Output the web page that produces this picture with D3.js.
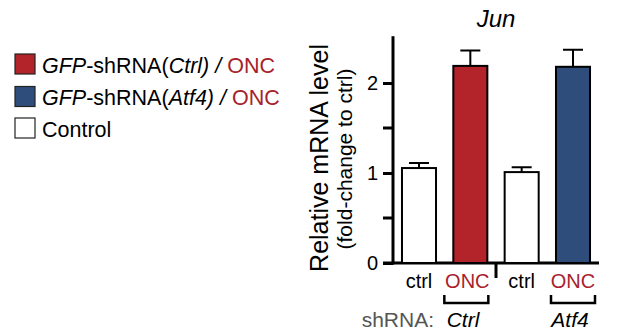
<!DOCTYPE html>
<html>
<head>
<meta charset="utf-8">
<script src="https://cdn.jsdelivr.net/npm/d3@7"></script>
<style>
  body { margin: 0; background: #fff; }
  text { font-family: "Liberation Sans", Arial, sans-serif; }
</style>
</head>
<body>
<div class="chartHolder"></div>
<script>
// data
let groups = ["ctrlA", "oncA", "ctrlB", "oncB"];
let groupLabels = ["ctrl", "ONC", "ctrl", "ONC"];
let values = [1.055, 2.19, 1.01, 2.18];
let errors = [0.055, 0.17, 0.055, 0.19];
let barColors = ["#ffffff", "#b2232a", "#ffffff", "#2f4d7b"];
let yTicks = [0, 1, 2];
let yMinorTicks = [0.5, 1.5];
let shrnaLabels = ["Ctrl", "Atf4"];

let width = 617,
  height = 335;
let red = "#a8222b";

let svg = d3
  .select(".chartHolder")
  .append("svg")
  .attr("width", width)
  .attr("height", height);

// scales
let yScale = d3.scaleLinear().domain([0, 2.5]).range([263, 38]);
let xScale = d3
  .scaleBand()
  .domain(groups)
  .range([393, 599])
  .paddingInner(0.337)
  .paddingOuter(0.175);

////////// Y AXIS //////////
let yAxis = d3
  .axisLeft(yScale)
  .tickValues(yTicks)
  .tickSize(10)
  .tickPadding(5)
  .tickFormat(d3.format("d"));

let yAxisGroup = svg
  .append("g")
  .attr("transform", "translate(393,0)")
  .call(yAxis);
yAxisGroup.select(".domain").remove();
yAxisGroup.selectAll("line").attr("stroke", "#000").attr("stroke-width", 3);
yAxisGroup
  .selectAll("text")
  .style("font-size", "20px")
  .attr("fill", "#000");

yAxisGroup
  .selectAll(".minor")
  .data(yMinorTicks)
  .enter()
  .append("line")
  .attr("x1", -10)
  .attr("x2", 0)
  .attr("y1", (d) => yScale(d))
  .attr("y2", (d) => yScale(d))
  .attr("stroke", "#000")
  .attr("stroke-width", 3);

// axis lines
svg
  .append("line")
  .attr("x1", 393)
  .attr("x2", 393)
  .attr("y1", yScale(2.52))
  .attr("y2", yScale(0) + 1.5)
  .attr("stroke", "#000")
  .attr("stroke-width", 3);
svg
  .append("line")
  .attr("x1", 383)
  .attr("x2", 599)
  .attr("y1", yScale(0))
  .attr("y2", yScale(0))
  .attr("stroke", "#000")
  .attr("stroke-width", 3);
// divider tick between groups
let midX = (xScale("oncA") + xScale.bandwidth() + xScale("ctrlB")) / 2;
svg
  .append("line")
  .attr("x1", midX)
  .attr("x2", midX)
  .attr("y1", yScale(0))
  .attr("y2", yScale(0) + 15)
  .attr("stroke", "#000")
  .attr("stroke-width", 3);

////////// BARS //////////
svg
  .selectAll(".err")
  .data(groups)
  .enter()
  .append("path")
  .attr("class", "err")
  .attr("d", (d, i) => {
    let cx = xScale(d) + xScale.bandwidth() / 2;
    let top = yScale(values[i] + errors[i]);
    return (
      "M" + cx + "," + yScale(values[i]) + "V" + top +
      "M" + (cx - 10) + "," + top + "H" + (cx + 10)
    );
  })
  .attr("fill", "none")
  .attr("stroke", "#000")
  .attr("stroke-width", 2);

svg
  .selectAll(".bar")
  .data(groups)
  .enter()
  .append("rect")
  .attr("class", "bar")
  .attr("x", (d) => xScale(d))
  .attr("y", (d, i) => yScale(values[i]))
  .attr("width", xScale.bandwidth())
  .attr("height", (d, i) => yScale(0) - yScale(values[i]))
  .attr("fill", (d, i) => barColors[i])
  .attr("stroke", "#000")
  .attr("stroke-width", 2);

////////// LABELS //////////
svg
  .append("text")
  .attr("x", midX)
  .attr("y", 27)
  .attr("text-anchor", "middle")
  .style("font-size", "24px")
  .style("font-style", "italic")
  .text("Jun");

svg
  .selectAll(".xlab")
  .data(groups)
  .enter()
  .append("text")
  .attr("class", "xlab")
  .attr("x", (d, i) => xScale(d) + xScale.bandwidth() / 2 - (i === 1 ? 3 : 0))
  .attr("y", 288)
  .attr("text-anchor", "middle")
  .style("font-size", "20px")
  .attr("fill", (d, i) => (i % 2 === 1 ? red : "#000"))
  .text((d, i) => groupLabels[i]);

// brackets under ONC bars
["oncA", "oncB"].forEach((g, i) => {
  let cx = xScale(g) + xScale.bandwidth() / 2 - (i === 0 ? 4 : 0);
  svg
    .append("path")
    .attr("d", "M" + (cx - 22) + ",295V303H" + (cx + 22) + "V295")
    .attr("fill", "none")
    .attr("stroke", "#000")
    .attr("stroke-width", 2.5);
});

svg
  .append("text")
  .attr("x", 434)
  .attr("y", 327)
  .attr("text-anchor", "end")
  .style("font-size", "21px")
  .attr("fill", "#555")
  .text("shRNA:");

svg
  .selectAll(".shlab")
  .data(shrnaLabels)
  .enter()
  .append("text")
  .attr("x", (d, i) => (i === 0 ? 463 : 570))
  .attr("y", 327)
  .attr("text-anchor", "middle")
  .style("font-size", "21px")
  .style("font-style", "italic")
  .text((d) => d);

// y axis titles
svg
  .append("text")
  .attr("transform", "translate(328,158) rotate(-90)")
  .attr("text-anchor", "middle")
  .style("font-size", "25px")
  .text("Relative mRNA level");
svg
  .append("text")
  .attr("transform", "translate(352,159) rotate(-90)")
  .attr("text-anchor", "middle")
  .style("font-size", "21px")
  .text("(fold-change to ctrl)");

////////// LEGEND //////////
let legendRows = [
  { fill: "#b2232a", y: 54 },
  { fill: "#2f4d7b", y: 86.5 },
  { fill: "#ffffff", y: 118 },
];
let legend = svg.append("g");
legend
  .selectAll("rect")
  .data(legendRows)
  .enter()
  .append("rect")
  .attr("x", 15)
  .attr("y", (d) => d.y)
  .attr("width", 20)
  .attr("height", 20)
  .attr("fill", (d) => d.fill)
  .attr("stroke", "#222")
  .attr("stroke-width", 1.2);

function legendText(y, parts) {
  let t = legend
    .append("text")
    .attr("x", 42)
    .attr("y", y)
    .style("font-size", "21.5px");
  parts.forEach((p) => {
    t.append("tspan")
      .text(p[0])
      .style("font-style", p[1] ? "italic" : "normal")
      .attr("fill", p[2] || "#000");
  });
}
legendText(73, [["GFP", 1], ["-shRNA(", 0], ["Ctrl)", 1], [" / ", 1], ["ONC", 0, red]]);
legendText(105, [["GFP", 1], ["-shRNA(", 0], ["Atf4)", 1], [" / ", 1], ["ONC", 0, red]]);
legendText(137, [["Control", 0]]);
</script>
</body>
</html>
